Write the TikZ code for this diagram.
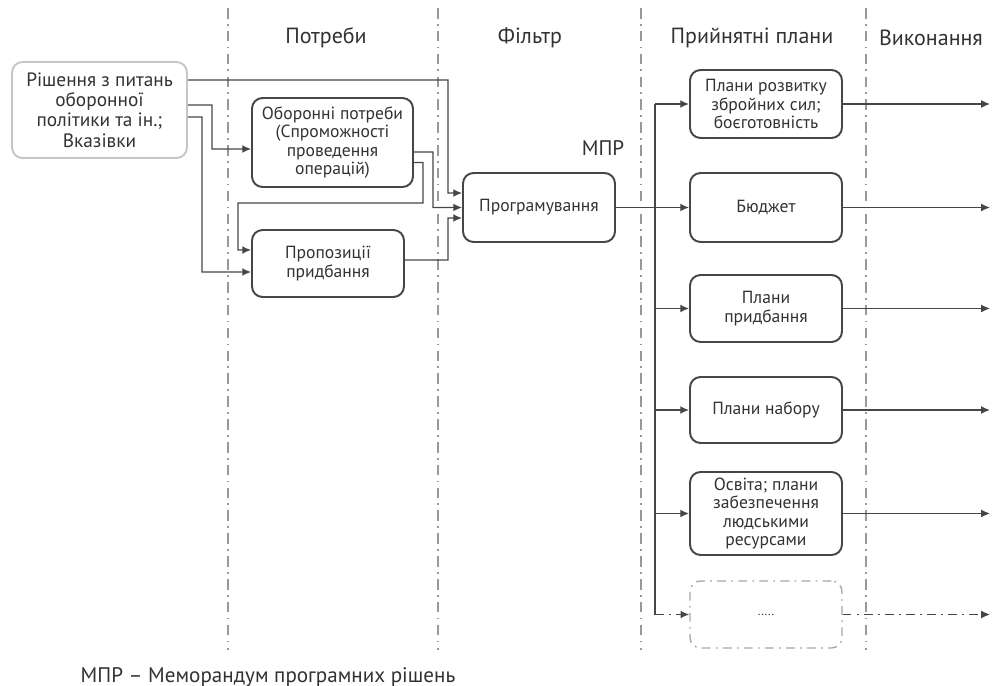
\documentclass[tikz,border=0pt]{standalone}
\usepackage{fontspec}
\setmainfont{PT Sans}
\usepackage{tikz}
\usetikzlibrary{
    arrows.meta,
    positioning,
    calc
}
\definecolor{lnGray}{RGB}{70,70,70}
\definecolor{txGray}{RGB}{50,50,50}
\tikzset{
  box/.style     = {draw=lnGray, line width=1.1pt, rounded corners=6pt,
                    minimum width=3.04cm, minimum height=1.36cm, align=center,
                    text=txGray, font=\fontsize{10}{10.5}\selectfont, inner sep=2pt},
  srcbox/.style  = {box, draw=gray!45, minimum width=3.5cm, minimum height=1.92cm,
                    font=\fontsize{11}{11.6}\selectfont},
  morebox/.style = {box, draw=gray!70, line width=0.8pt, dash pattern=on 5pt off 3pt on 1pt off 3pt},
  head/.style    = {text=txGray, font=\fontsize{12.5}{14}\selectfont},
  arr/.style     = {-{Latex[length=5pt,width=4.5pt]}, lnGray, line width=0.8pt},
  ln/.style      = {lnGray, line width=0.8pt},
  colline/.style = {gray!80, line width=0.6pt, dash pattern=on 6pt off 3pt on 1pt off 3pt}
}

\begin{document}
\begin{tikzpicture}[x=0.02cm, y=-0.02cm]
    \useasboundingbox (0,0) rectangle (1002,686);

    % columns
    \foreach \x in {228,438,641,866}
      \draw[colline] (\x,8) -- (\x,650);
    \node[head] (hNeeds) at (326,38) {Потреби};
    \node[head] (hFilt)  at (530,38) {Фільтр};
    \node[head] (hPlans) at (752,38) {Прийнятні плани};
    \node[head] (hExec)  at (931,38) {Виконання};

    \node[srcbox] (dec) at (99.5,110) {Рішення з питань\\оборонної\\політики та ін.;\\Вказівки};
    \node[box, minimum width=3.22cm, minimum height=1.78cm] (needs) at (332.5,142.5)
        {Оборонні потреби\\(Спроможності\\проведення\\операцій)};
    \node[box, minimum height=1.34cm] (prop) at (328,263.5) {Пропозиції\\придбання};
    \node[box, minimum height=1.38cm] (prog) at (539,207.5) {Програмування};
    \node[head, font=\fontsize{12}{14}\selectfont] (mpr) at (603,148) {МПР};

    \node[box] (dev)  at (766,104)   {Плани розвитку\\збройних сил;\\боєготовність};
    \node[box, minimum height=1.38cm] (budg) at (766,207.5) {Бюджет};
    \node[box, minimum height=1.34cm] (acq)  at (766,308.5) {Плани\\придбання};
    \node[box, minimum height=1.32cm] (recr) at (766,410)   {Плани набору};
    \node[box, minimum height=1.66cm] (edu)  at (766,513.5)
        {Освіта; плани\\забезпечення\\людськими\\ресурсами};
    \node[morebox, minimum height=1.34cm] (more) at (766,614.5) {\fontsize{7}{8}\selectfont .....};

    \coordinate (bus) at (655,0);
    \coordinate (out) at (990,0);

    % inputs
    \draw[arr] ([yshift=0.6cm]dec.east) -- (448,80) -- (448,193) -- ([yshift=0.29cm]prog.west);
    \draw[arr] ([yshift=0.1cm]dec.east) -- (212,105) |- ([yshift=-0.13cm]needs.west);
    \draw[arr] ([yshift=-0.14cm]dec.east) -- (202,117) |- ([yshift=-0.17cm]prop.west);
    \draw[arr] ([yshift=-0.19cm]needs.east) -- (433,152) |- (prog.west);
    \draw[arr] ([yshift=-0.4cm]needs.east) -- (423,162.5) -- (423,203) -- (238,203)
        |- ([yshift=0.27cm]prop.west);
    \draw[arr] ([yshift=0.07cm]prop.east) -- (448,260) |- ([yshift=-0.21cm]prog.west);

    % plans
    \draw[arr] (prog.east) -- (budg.west);
    \draw[ln] (dev.west -| bus) -- (more.west -| bus);
    \foreach \b in {dev,acq,recr,edu}
      \draw[arr] (\b.west -| bus) -- (\b.west);
    \draw[arr, dash pattern=on 5pt off 3pt on 1pt off 3pt] (more.west -| bus) -- (more.west);

    % execution
    \foreach \b in {dev,budg,acq,recr,edu}
      \draw[arr] (\b.east) -- (\b.east -| out);
    \draw[arr, dash pattern=on 5pt off 3pt on 1pt off 3pt] (more.east) -- (more.east -| out);

    \node[head, font=\fontsize{12}{14}\selectfont] (legend) at (268,677)
        {МПР – Меморандум програмних рішень};
\end{tikzpicture}
\end{document}
